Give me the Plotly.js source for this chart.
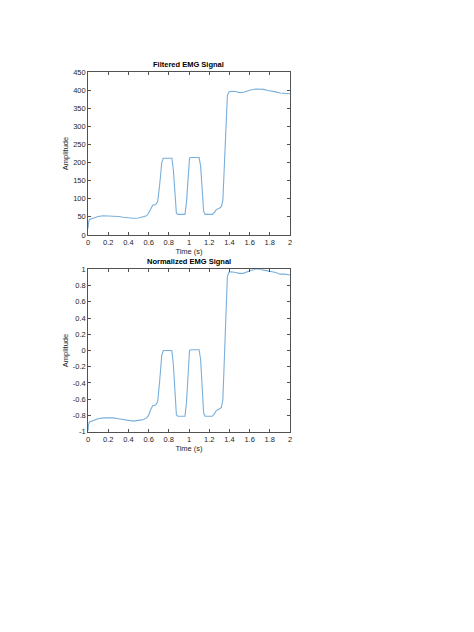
<!DOCTYPE html>
<html>
<head>
<meta charset="utf-8">
<script src="https://cdn.plot.ly/plotly-3.0.1.min.js"></script>
<style>
  html, body { margin: 0; padding: 0; background: #fff; }
  #plot { width: 474px; height: 632px; }
</style>
</head>
<body>
<div id="plot"></div>
<script>
// time points (s)
var timeFiltered = [0, 0.005, 0.015, 0.05, 0.1, 0.15, 0.2, 0.25, 0.3, 0.35, 0.4, 0.45, 0.5, 0.55, 0.58,
    0.6, 0.62, 0.64, 0.67, 0.69, 0.71, 0.73, 0.745, 0.76, 0.8, 0.83, 0.845, 0.86, 0.875, 0.89, 0.93, 0.96,
    0.975, 0.99, 1.005, 1.02, 1.06, 1.1, 1.115, 1.13, 1.145, 1.16, 1.2, 1.23, 1.25, 1.27, 1.3, 1.32,
    1.335, 1.35, 1.365, 1.38, 1.395, 1.42, 1.46, 1.5, 1.54, 1.58, 1.62, 1.66, 1.7, 1.74, 1.78, 1.82,
    1.86, 1.9, 1.95, 2.0];
var ampFiltered = [18, 35, 43, 46, 51, 53, 53, 53, 51, 49, 47, 46, 47, 50, 53,
    60, 72, 82, 84, 92, 140, 200, 212, 212, 212, 212, 180, 110, 60, 57, 57, 57,
    90, 170, 212, 214, 214, 214, 190, 120, 65, 57, 57, 57, 62, 70, 74, 78,
    95, 200, 330, 385, 395, 397, 396, 393, 394, 398, 401, 403, 403, 402, 399, 398,
    395, 392, 392, 390];

var timeNorm = timeFiltered;
var ampNorm = [-0.99, -0.91, -0.88, -0.86, -0.84, -0.83, -0.83, -0.83, -0.84, -0.85, -0.86, -0.87, -0.86, -0.85, -0.83,
    -0.8, -0.73, -0.68, -0.67, -0.63, -0.37, -0.06, 0.0, 0.0, 0.0, 0.0, -0.17, -0.53, -0.79, -0.81, -0.81, -0.81,
    -0.64, -0.22, 0.0, 0.01, 0.01, 0.01, -0.11, -0.48, -0.77, -0.81, -0.81, -0.81, -0.78, -0.74, -0.72, -0.7,
    -0.61, -0.06, 0.62, 0.91, 0.96, 0.97, 0.96, 0.95, 0.95, 0.97, 0.99, 1.0, 1.0, 0.99, 0.98, 0.97,
    0.96, 0.94, 0.94, 0.93];

var xTicks = [0, 0.2, 0.4, 0.6, 0.8, 1, 1.2, 1.4, 1.6, 1.8, 2];
var xTickText = ['0', '0.2', '0.4', '0.6', '0.8', '1', '1.2', '1.4', '1.6', '1.8', '2'];
var yTicksTop = [0, 50, 100, 150, 200, 250, 300, 350, 400, 450];
var yTicksBottom = [-1, -0.8, -0.6, -0.4, -0.2, 0, 0.2, 0.4, 0.6, 0.8, 1];
var yTickTextBottom = ['-1', '-0.8', '-0.6', '-0.4', '-0.2', '0', '0.2', '0.4', '0.6', '0.8', '1'];

var lineColor = '#78afdc';
var axColor = '#262626';
var fontFam = 'Liberation Sans, Arial, sans-serif';

function axisStyle(extra) {
    var a = {
        showline: true, mirror: 'ticks', linecolor: axColor, linewidth: 0.8,
        ticks: 'inside', ticklen: 3, tickcolor: axColor, tickwidth: 0.8,
        showgrid: false, zeroline: false,
        tickfont: {family: fontFam, size: 7.5, color: axColor}
    };
    for (var k in extra) a[k] = extra[k];
    return a;
}

var traces = [
    {x: timeFiltered, y: ampFiltered, type: 'scatter', mode: 'lines',
     line: {color: lineColor, width: 1.1}, xaxis: 'x', yaxis: 'y', showlegend: false},
    {x: timeNorm, y: ampNorm, type: 'scatter', mode: 'lines',
     line: {color: lineColor, width: 1.1}, xaxis: 'x2', yaxis: 'y2', showlegend: false}
];

var titleFont = {family: fontFam, size: 7.5, color: '#000'};
var labelFont = {family: fontFam, size: 7.5, color: axColor};

var layout = {
    width: 474, height: 632,
    margin: {l: 0, r: 0, t: 0, b: 0},
    paper_bgcolor: '#fff', plot_bgcolor: '#fff',
    xaxis: axisStyle({domain: [0.1857, 0.6118], range: [0, 2], tickvals: xTicks, ticktext: xTickText,
        anchor: 'y', title: {text: 'Time (s)', font: labelFont, standoff: 2}}),
    yaxis: axisStyle({domain: [0.6282, 0.8861], range: [0, 450], tickvals: yTicksTop,
        anchor: 'x', title: {text: 'Amplitude', font: labelFont, standoff: 3}}),
    xaxis2: axisStyle({domain: [0.1857, 0.6118], range: [0, 2], tickvals: xTicks, ticktext: xTickText,
        anchor: 'y2', title: {text: 'Time (s)', font: labelFont, standoff: 2}}),
    yaxis2: axisStyle({domain: [0.3169, 0.5739], range: [-1, 1], tickvals: yTicksBottom, ticktext: yTickTextBottom,
        anchor: 'x2', title: {text: 'Amplitude', font: labelFont, standoff: 3}}),
    annotations: [
        {text: '<b>Filtered EMG Signal</b>', xref: 'paper', yref: 'paper', x: 0.3987, y: 0.8861,
         xanchor: 'center', yanchor: 'bottom', yshift: 1, showarrow: false, font: titleFont},
        {text: '<b>Normalized EMG Signal</b>', xref: 'paper', yref: 'paper', x: 0.3987, y: 0.5739,
         xanchor: 'center', yanchor: 'bottom', yshift: 1, showarrow: false, font: titleFont}
    ]
};

Plotly.newPlot('plot', traces, layout, {displayModeBar: false, staticPlot: true});
</script>
</body>
</html>
